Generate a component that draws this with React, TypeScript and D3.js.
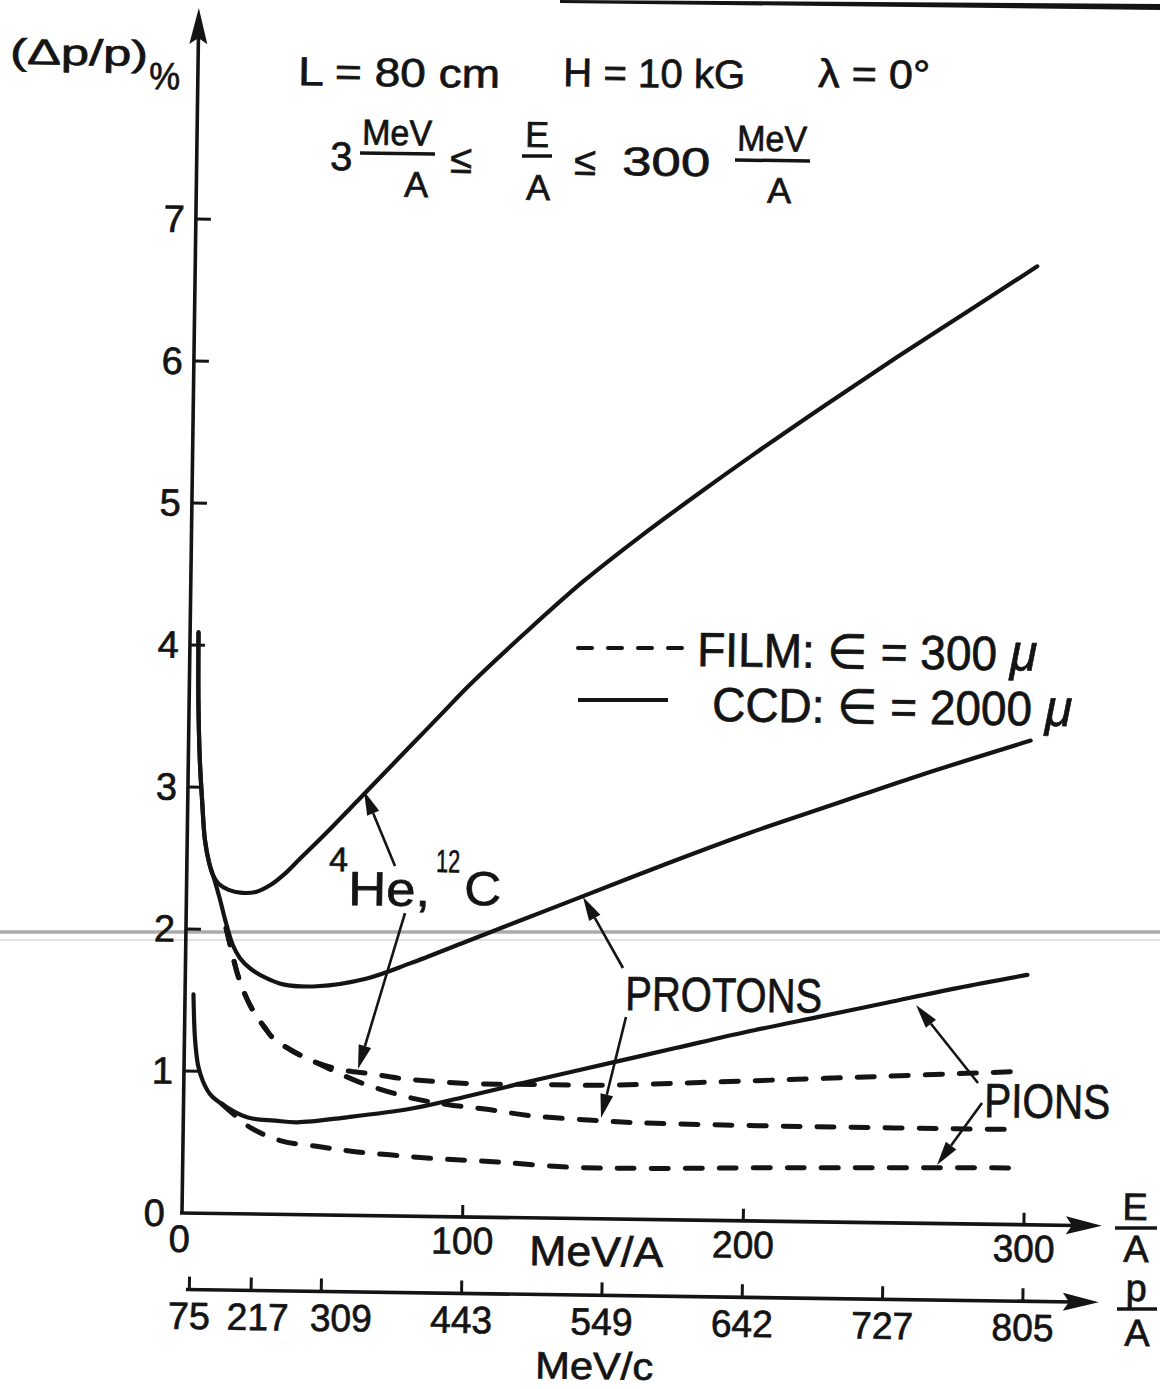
import React, { useEffect, useRef } from 'react';
import * as d3 from 'd3';

type Pt = [number, number];

// (E/A in MeV/A, Δp/p in %)
const heliumCcd: Pt[] = [
  [3, 4.09], [3.3, 3.61], [4.1, 3.19], [5.1, 2.91], [6.3, 2.63], [7.9, 2.47], [9.4, 2.38],
  [11.5, 2.32], [15, 2.28], [20, 2.26], [25, 2.27], [30, 2.32], [35, 2.4], [40, 2.5],
  [50, 2.7], [60, 2.91], [70, 3.12], [80, 3.33], [90, 3.54], [100, 3.75], [120, 4.13],
  [140, 4.49], [160, 4.81], [180, 5.11], [200, 5.4], [225, 5.75], [250, 6.09], [275, 6.42], [300, 6.75],
];

const protonCcd: Pt[] = [
  [3, 4.09], [3.3, 3.61], [4.1, 3.19], [5.1, 2.91], [6.3, 2.63], [7.9, 2.47], [9.4, 2.38],
  [12, 2.21], [13.9, 2.07], [16.8, 1.89], [19.4, 1.8], [23, 1.73], [29.1, 1.66], [34.9, 1.62],
  [47, 1.61], [64.7, 1.67], [80, 1.78], [100, 1.94], [120, 2.1], [140, 2.26], [170, 2.5],
  [200, 2.73], [230, 2.94], [260, 3.15], [300, 3.41],
];

const pionCcd: Pt[] = [
  [3, 1.54], [3.8, 1.22], [5, 1.04], [6.8, 0.93], [9.4, 0.84], [13, 0.78], [22.7, 0.68],
  [32.7, 0.66], [40.5, 0.65], [58.3, 0.69], [81.8, 0.76], [100, 0.845], [125, 0.97],
  [150, 1.09], [175, 1.21], [200, 1.33], [225, 1.44], [250, 1.55], [275, 1.66], [300, 1.76],
];

const heliumFilm: Pt[] = [
  [14.3, 2.01], [16.5, 1.84], [18.4, 1.7], [20.6, 1.58], [23.2, 1.47], [25.7, 1.39],
  [28.7, 1.31], [31.6, 1.24], [38.7, 1.15], [47.4, 1.07], [57.4, 1.02], [66.3, 1.0],
  [77, 0.97], [100.9, 0.94], [124.4, 0.94], [148.3, 0.94], [183.9, 0.97], [237.3, 1.02], [298.6, 1.08],
];

const protonFilm: Pt[] = [
  [14.3, 2.01], [16.5, 1.84], [18.4, 1.7], [20.6, 1.58], [23.2, 1.47], [25.7, 1.39],
  [28.7, 1.31], [31.6, 1.24], [38.7, 1.15], [47.4, 1.07], [57.4, 0.98], [65.3, 0.92],
  [81.7, 0.83], [93.9, 0.79], [108.1, 0.76], [123.5, 0.72], [149.5, 0.69], [162.7, 0.68],
  [219.7, 0.67], [298.1, 0.67],
];

const pionFilm: Pt[] = [
  [13.7, 0.77], [17.3, 0.71], [23.8, 0.61], [34.6, 0.52], [48.8, 0.48], [60.6, 0.45],
  [73.8, 0.43], [88.1, 0.41], [112, 0.39], [139.1, 0.36], [165.4, 0.36], [219.9, 0.38], [299, 0.4],
];

const yTicks = [1, 2, 3, 4, 5, 6, 7];
const xTicks = [100, 200, 300];
// momentum scale: each tick sits at the E/A it corresponds to
const momentumTickE = [3, 25, 50, 100, 150, 200, 250, 300];
const momentumTickLabels = ['75', '217', '309', '443', '549', '642', '727', '805'];

const W = 1160;
const H = 1389;
const INK = '#141414';
const FONT = "'Liberation Sans', Arial, sans-serif";
const TILT = 0.8; // the scan sits slightly rotated clockwise
const ORIGIN: Pt = [182, 1213];
const RAD = (TILT * Math.PI) / 180;

// map a position seen on the page into the tilted frame
const at = (px: number, py: number): Pt => {
  const dx = px - ORIGIN[0];
  const dy = py - ORIGIN[1];
  return [
    ORIGIN[0] + dx * Math.cos(RAD) + dy * Math.sin(RAD),
    ORIGIN[1] - dx * Math.sin(RAD) + dy * Math.cos(RAD),
  ];
};

export default function App() {
  const ref = useRef<SVGSVGElement>(null);

  useEffect(() => {
    if (!ref.current) return;
    const svg = d3.select(ref.current);
    svg.selectAll('*').remove();

    svg.append('rect').attr('width', W).attr('height', H).attr('fill', '#fff');

    // scanner streaks + page edge
    svg.append('line').attr('x1', 0).attr('x2', W).attr('y1', 932).attr('y2', 932)
      .attr('stroke', '#ababab').attr('stroke-width', 3.5);
    svg.append('line').attr('x1', 0).attr('x2', W).attr('y1', 940).attr('y2', 940)
      .attr('stroke', '#d8d8d8').attr('stroke-width', 1.5);
    svg.append('path').attr('d', 'M560,0 L1160,4 L1160,10 L560,3 Z').attr('fill', INK);

    const g = svg.append('g').attr('transform', `rotate(${TILT},${ORIGIN[0]},${ORIGIN[1]})`);

    const x = d3.scaleLinear().domain([0, 300]).range([182, 1024]);
    const y = d3.scaleLinear().domain([0, 7]).range([1213, 219]);
    const x0 = x(0);
    const y0 = y(0);
    const yP = 1289.5;

    const rawText = (str: string, tx: number, ty: number, size: number,
      anchor = 'start', len?: number) => {
      const t = g.append('text')
        .attr('x', tx).attr('y', ty)
        .attr('font-family', FONT)
        .attr('font-size', size)
        .attr('text-anchor', anchor)
        .attr('fill', INK)
        .attr('stroke', INK)
        .attr('stroke-width', 0.7)
        .text(str);
      if (len) t.attr('textLength', len).attr('lengthAdjust', 'spacingAndGlyphs');
      return t;
    };
    const text = (str: string, px: number, py: number, size: number,
      anchor = 'start', len?: number) => {
      const [tx, ty] = at(px, py);
      return rawText(str, tx, ty, size, anchor, len);
    };
    const bar = (x1: number, y1: number, x2: number, y2: number, w = 3) => {
      const a = at(x1, y1);
      const b = at(x2, y2);
      g.append('line').attr('x1', a[0]).attr('y1', a[1]).attr('x2', b[0]).attr('y2', b[1])
        .attr('stroke', INK).attr('stroke-width', w);
    };
    const arrow = (from: Pt, to: Pt) => {
      const a = at(from[0], from[1]);
      const b = at(to[0], to[1]);
      const ang = Math.atan2(b[1] - a[1], b[0] - a[0]);
      const len = 24;
      const hw = 6.5;
      const bx = b[0] - len * Math.cos(ang);
      const by = b[1] - len * Math.sin(ang);
      g.append('line').attr('x1', a[0]).attr('y1', a[1]).attr('x2', bx).attr('y2', by)
        .attr('stroke', INK).attr('stroke-width', 2.6);
      const px = -Math.sin(ang) * hw;
      const py = Math.cos(ang) * hw;
      g.append('path')
        .attr('d', `M${b[0]},${b[1]} L${bx + px},${by + py} L${bx - px},${by - py} Z`)
        .attr('fill', INK);
    };

    // axes
    g.append('line').attr('x1', x0).attr('y1', y0).attr('x2', x0).attr('y2', 34)
      .attr('stroke', INK).attr('stroke-width', 3.6);
    g.append('path').attr('d', `M${x0},8 L${x0 - 9},44 L${x0},38 L${x0 + 9},44 Z`).attr('fill', INK);

    g.append('line').attr('x1', x0 - 2).attr('y1', y0).attr('x2', 1076).attr('y2', y0)
      .attr('stroke', INK).attr('stroke-width', 3.6);
    g.append('path').attr('d', `M1102,${y0} L1066,${y0 - 9} L1072,${y0} L1066,${y0 + 9} Z`).attr('fill', INK);

    g.append('line').attr('x1', 187).attr('y1', yP).attr('x2', 1074).attr('y2', yP)
      .attr('stroke', INK).attr('stroke-width', 3.6);
    g.append('path').attr('d', `M1100,${yP} L1064,${yP - 9} L1070,${yP} L1064,${yP + 9} Z`).attr('fill', INK);

    yTicks.forEach(v => {
      g.append('line').attr('x1', x0).attr('x2', x0 + 15).attr('y1', y(v)).attr('y2', y(v))
        .attr('stroke', INK).attr('stroke-width', 3);
      rawText(String(v), x0 - 11, y(v) + 13, 38, 'end');
    });
    xTicks.forEach(v => {
      g.append('line').attr('x1', x(v)).attr('x2', x(v)).attr('y1', y0).attr('y2', y0 - 12)
        .attr('stroke', INK).attr('stroke-width', 3);
      rawText(String(v), x(v), 1250, 38, 'middle', 62);
    });
    const nudge: Record<string, number> = { '217': 7, '309': 20 };
    momentumTickE.forEach((e, i) => {
      g.append('line').attr('x1', x(e)).attr('x2', x(e)).attr('y1', yP).attr('y2', yP - 13)
        .attr('stroke', INK).attr('stroke-width', 3);
      const lab = momentumTickLabels[i];
      rawText(lab, x(e) + (nudge[lab] ?? 0), 1329, 38, 'middle', lab.length === 2 ? 42 : 62);
    });
    text('0', 154, 1226, 38, 'middle');
    text('0', 179, 1252, 38, 'middle');
    text('MeV/A', 596, 1266, 42, 'middle', 134);
    text('MeV/c', 594, 1379, 38, 'middle', 118);

    // E/A and p/A axis names
    text('E', 1135, 1220, 38, 'middle');
    bar(1115, 1228, 1157, 1228, 3.5);
    text('A', 1136, 1262, 38, 'middle');
    text('p', 1136, 1301, 38, 'middle');
    bar(1117, 1309, 1157, 1309, 3.5);
    text('A', 1137, 1346, 38, 'middle');

    // curves
    const line = d3.line<Pt>()
      .x(d => x(d[0]))
      .y(d => y(d[1]))
      .curve(d3.curveCatmullRom.alpha(0.5));

    [heliumCcd, protonCcd, pionCcd].forEach(s => {
      g.append('path').attr('d', line(s) ?? '').attr('fill', 'none')
        .attr('stroke', INK).attr('stroke-width', 4.2)
        .attr('stroke-linecap', 'round').attr('stroke-linejoin', 'round');
    });
    [heliumFilm, protonFilm, pionFilm].forEach(s => {
      g.append('path').attr('d', line(s) ?? '').attr('fill', 'none')
        .attr('stroke', INK).attr('stroke-width', 5)
        .attr('stroke-dasharray', '17 17')
        .attr('stroke-linecap', 'round');
    });

    // header
    text('(Δp/p)', 10, 64, 36, 'start', 138);
    text('%', 149, 89, 38, 'start', 31);
    text('L = 80 cm', 298, 85, 40, 'start', 202);
    text('H = 10 kG', 563, 86, 40, 'start', 182);
    text('λ = 0°', 818, 87, 40, 'start', 112);

    text('3', 330, 170, 40);
    text('MeV', 397, 145, 36, 'middle', 70);
    bar(360, 153, 435, 154, 3.5);
    text('A', 416, 197, 36, 'middle');
    text('≤', 461, 173, 40, 'middle');
    text('E', 537, 147, 36, 'middle');
    bar(522, 156, 552, 156, 3.5);
    text('A', 538, 200, 36, 'middle');
    text('≤', 585, 175, 40, 'middle');
    text('300', 622, 175, 40, 'start', 88);
    text('MeV', 772, 151, 36, 'middle', 70);
    bar(735, 160, 810, 161, 3.5);
    text('A', 779, 203, 36, 'middle');

    // legend
    const d1 = at(578, 648);
    const d2 = at(690, 648);
    g.append('line').attr('x1', d1[0]).attr('y1', d1[1]).attr('x2', d2[0]).attr('y2', d2[1])
      .attr('stroke', INK).attr('stroke-width', 4).attr('stroke-dasharray', '14 16')
      .attr('stroke-linecap', 'round');
    bar(578, 700, 668, 700, 4);
    const film = text('FILM: ∈ = 300 ', 697, 666, 48, 'start', 340);
    film.append('tspan').attr('font-style', 'italic').attr('font-size', 52).text('μ');
    const ccd = text('CCD: ∈ = 2000 ', 712, 721, 48, 'start', 360);
    ccd.append('tspan').attr('font-style', 'italic').attr('font-size', 52).text('μ');

    // curve labels
    text('4', 329, 871, 34);
    text('He,', 348, 905, 48, 'start', 82);
    text('12', 436, 872, 32, 'start', 24);
    text('C', 464, 905, 48, 'start', 37);
    arrow([395, 866], [364, 791]);
    arrow([405, 913], [358, 1069]);

    text('PROTONS', 625, 1010, 48, 'start', 197);
    arrow([623, 968], [583, 897]);
    arrow([626, 1017], [601, 1118]);

    text('PIONS', 984, 1117, 48, 'start', 126);
    arrow([978, 1083], [916, 1005]);
    arrow([982, 1103], [937, 1165]);
  }, []);

  return (
    <svg
      ref={ref}
      width={W}
      height={H}
      style={{ position: 'absolute', left: 0, top: 0, display: 'block', background: '#fff' }}
    />
  );
}
